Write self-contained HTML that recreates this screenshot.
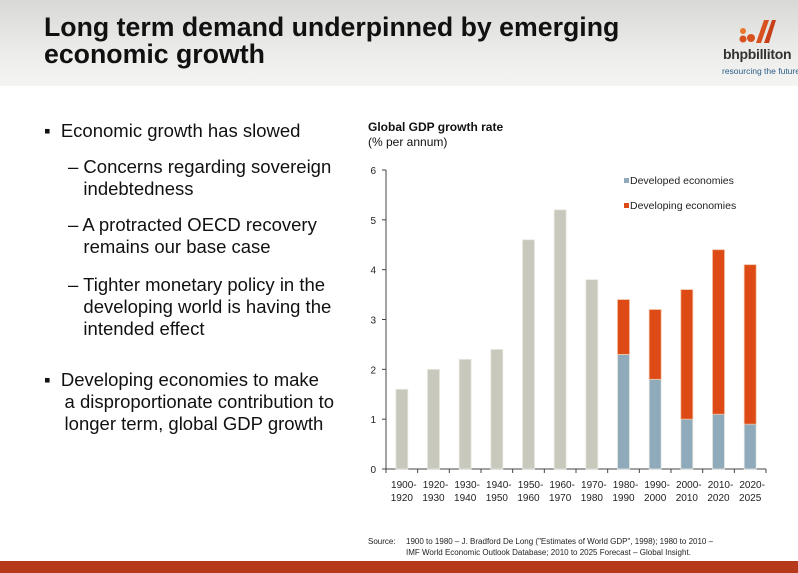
<!DOCTYPE html>
<html><head><meta charset="utf-8"><style>
body{margin:0;width:798px;height:573px;overflow:hidden;background:#fff;font-family:"Liberation Sans",sans-serif;position:relative}
.hdr{position:absolute;left:0;top:0;width:798px;height:86px;background:linear-gradient(180deg,#d8d8d6 0%,#ececea 60%,#f4f4f2 100%)}
.title{position:absolute;left:44px;top:14px;font-size:26.7px;font-weight:bold;line-height:27px;color:#111}
.logo{position:absolute;left:723px;top:46px;font-size:14px;font-weight:bold;color:#333;white-space:nowrap;letter-spacing:-0.3px}
.tag{position:absolute;left:722px;top:66px;font-size:8.5px;color:#2a5d8a;white-space:nowrap}
.bul{position:absolute;font-size:18.5px;color:#111;line-height:22px;white-space:nowrap}
.foot{position:absolute;left:0;top:561px;width:798px;height:12px;background:#b5391a}
.src{position:absolute;left:368px;top:536px;font-size:8px;color:#222;line-height:11px}
</style></head><body>
<div class="hdr"></div>
<div class="title">Long term demand underpinned by emerging<br>economic growth</div>
<svg style="position:absolute;left:738px;top:18px" width="40" height="26">
<circle cx="5" cy="13" r="3" fill="#e8762b"/><circle cx="5" cy="21" r="3.5" fill="#d8501e"/><circle cx="13" cy="20" r="4" fill="#d8501e"/>
<path d="M18 25 L26 2 L31 2 L23 25Z" fill="#d8501e"/><path d="M26 25 L34 2 L38 2 L31 25Z" fill="#c8401a"/></svg>
<div class="logo">bhpbilliton</div>
<div class="tag">resourcing the future</div>
<div class="bul" style="left:44px;top:120px">▪&nbsp; Economic growth has slowed</div>
<div class="bul" style="left:68px;top:156px">– Concerns regarding sovereign<br>&nbsp;&nbsp; indebtedness</div>
<div class="bul" style="left:68px;top:214px">– A protracted OECD recovery<br>&nbsp;&nbsp; remains our base case</div>
<div class="bul" style="left:68px;top:274px">– Tighter monetary policy in the<br>&nbsp;&nbsp; developing world is having the<br>&nbsp;&nbsp; intended effect</div>
<div class="bul" style="left:44px;top:369px">▪&nbsp; Developing economies to make<br>&nbsp;&nbsp;&nbsp; a disproportionate contribution to<br>&nbsp;&nbsp;&nbsp; longer term, global GDP growth</div>
<div style="position:absolute;left:368px;top:120px;font-size:12px;font-weight:bold;color:#111">Global GDP growth rate</div>
<div style="position:absolute;left:368px;top:135px;font-size:12px;color:#111">(% per annum)</div>
<svg id="chart" style="position:absolute;left:0;top:0" width="798" height="573"></svg>
<div class="src"><span style="display:inline-block;width:38px">Source:</span>1900 to 1980 – J. Bradford De Long ("Estimates of World GDP", 1998); 1980 to 2010 –<br><span style="display:inline-block;width:38px"></span>IMF World Economic Outlook Database; 2010 to 2025 Forecast – Global Insight.</div>
<div class="foot"></div>
<script>
const categories=[["1900-","1920"],["1920-","1930"],["1930-","1940"],["1940-","1950"],["1950-","1960"],["1960-","1970"],["1970-","1980"],["1980-","1990"],["1990-","2000"],["2000-","2010"],["2010-","2020"],["2020-","2025"]];
const totalWorld=[1.6,2.0,2.2,2.4,4.6,5.2,3.8,null,null,null,null,null];
const developed=[null,null,null,null,null,null,null,2.3,1.8,1.0,1.1,0.9];
const developing=[null,null,null,null,null,null,null,1.1,1.4,2.6,3.3,3.2];
const yTicks=[0,1,2,3,4,5,6];
const NS="http://www.w3.org/2000/svg";
const svg=document.getElementById('chart');
const x0=386,x1=766,y0=469,y6=170;
const bw=(x1-x0)/categories.length;
const Y=v=>y0-(v/6)*(y0-y6);
const X=i=>x0+bw*i+bw/2;
function mk(t,a){const e=document.createElementNS(NS,t);for(const k in a)e.setAttribute(k,a[k]);svg.appendChild(e);return e;}
let ax=mk('line',{x1:x0,y1:y6,x2:x0,y2:y0,stroke:'#444','stroke-width':1});

let bx=mk('line',{x1:x0,y1:y0,x2:x1,y2:y0,stroke:'#444','stroke-width':1});

yTicks.forEach(t=>{mk('line',{x1:x0-4,y1:Y(t),x2:x0,y2:Y(t),stroke:'#444'});
 const tx=mk('text',{x:x0-10,y:Y(t)+4,'font-size':10,'text-anchor':'end',fill:'#222','font-family':'Liberation Sans'});tx.textContent=t;
 });
for(let i=0;i<=categories.length;i++)mk('line',{x1:x0+bw*i,y1:y0,x2:x0+bw*i,y2:y0+4,stroke:'#444'});
const w=12;
categories.forEach((c,i)=>{
 const cx=X(i);
 if(totalWorld[i]!=null){const r=mk('rect',{x:cx-w/2,y:Y(totalWorld[i]),width:w,height:y0-Y(totalWorld[i]),fill:'#c8c8bc',stroke:'#e8e8e0','stroke-width':0.8});
  }
 if(developed[i]!=null){const d=developed[i],g=developing[i];
  const r=mk('rect',{x:cx-w/2,y:Y(d),width:w,height:y0-Y(d),fill:'#8eaabb',stroke:'#e8e8e0','stroke-width':0.8});
  
  const r2=mk('rect',{x:cx-w/2,y:Y(d+g),width:w,height:Y(d)-Y(d+g),fill:'#dd4a16',stroke:'#f0c0a0','stroke-width':0.8});
  }
 c.forEach((s,j)=>{const t=mk('text',{x:cx+(j==0?2:0),y:488+j*13,'font-size':10,'text-anchor':'middle',fill:'#222','font-family':'Liberation Sans'});t.textContent=s;
  });
});
[['#8eaabb','Developed economies',182],['#dd4a16','Developing economies',207]].forEach(([col,l,y])=>{
 const r=mk('rect',{x:624,y:y-4,width:5,height:5,fill:col});
 const t=mk('text',{x:630,y:y+2,'font-size':10.5,fill:'#222','font-family':'Liberation Sans'});t.textContent=l;
 });
</script>
</body></html>
